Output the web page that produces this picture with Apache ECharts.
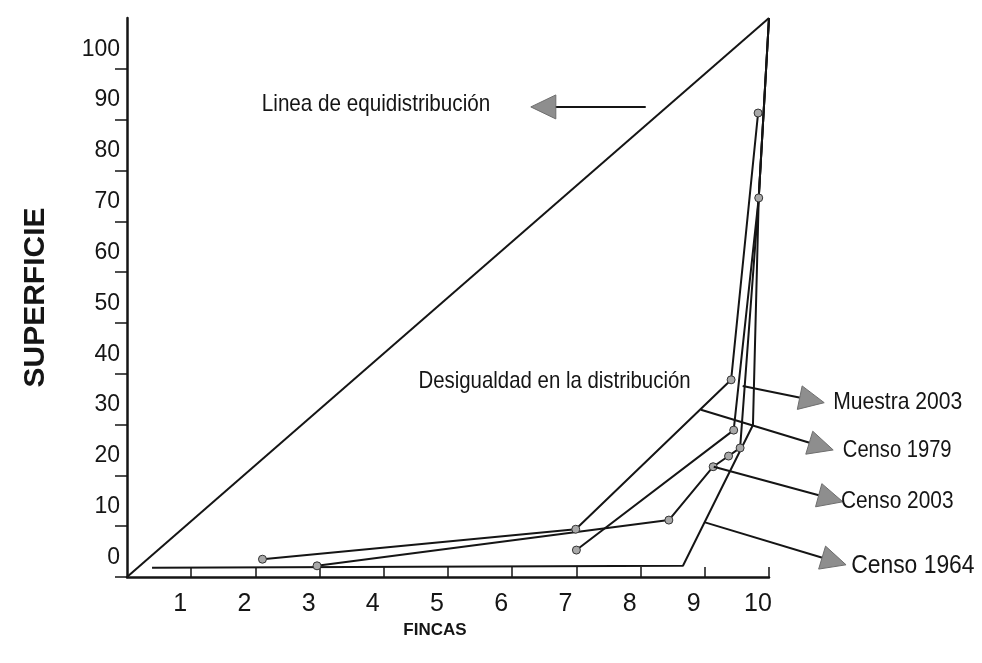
<!DOCTYPE html>
<html>
<head>
<meta charset="utf-8">
<script src="https://cdn.jsdelivr.net/npm/echarts@6/dist/echarts.min.js"></script>
<style>html,body{margin:0;padding:0;background:#fff}#c{width:982px;height:663px}</style>
</head>
<body>
<div id="c"></div>
<script>
// ---- data (x: fincas, y: superficie) ----
const fincasTicks = [1, 2, 3, 4, 5, 6, 7, 8, 9, 10];
const superficieTicks = [0, 10, 20, 30, 40, 50, 60, 70, 80, 90, 100];
const equidistribucion = [[0, 0], [10, 110]];
const censo1964 = [[0.39, 1.8], [8.66, 2.2], [9.75, 29.9], [9.84, 74.6], [10, 110]];
const censo1964Markers = [false, false, false, true, false];
const censo1979 = [[2.11, 3.5], [6.99, 9.4], [9.41, 38.8], [9.83, 91.3]];
const censo1979Markers = [true, true, true, true];
const censo2003 = [[2.96, 2.2], [8.44, 11.2], [9.13, 21.7], [9.37, 23.8], [9.55, 25.4], [9.84, 74.6], [10, 110]];
const censo2003Markers = [true, true, true, true, true, false, false];
const muestra2003 = [[7.0, 5.3], [9.45, 28.9], [9.84, 74.6], [10, 110]];
const muestra2003Markers = [true, true, false, false];

// annotations: arrows [fromX, fromY, toX, toY] and labels
const arrows = [
  [8.08, 92.5, 6.29, 92.5],
  [9.59, 37.6, 10.86, 34.3],
  [8.94, 32.9, 11.0, 25.0],
  [9.14, 21.7, 11.15, 14.8],
  [8.99, 10.8, 11.2, 2.4]
];
const labelTexts = ['Linea de equidistribución', 'Desigualdad en la distribución', 'Muestra 2003', 'Censo 1979', 'Censo 2003', 'Censo 1964'];
const labelPos = [[2.1, 93.1], [4.54, 38.4], [11.0, 34.4], [11.15, 25.0], [11.12, 14.8], [11.28, 2.2]];
const labelSizes = [24, 24, 24, 24, 24, 26];
const labelSqueeze = [0.86, 0.85, 0.88, 0.84, 0.87, 0.88];

const FONT = "'Liberation Sans', Arial, sans-serif";
const INK = '#151515';

function withMarkers(pts, flags) {
  return pts.map((p, i) => flags[i] ? { value: p } : { value: p, symbol: 'none' });
}

function curve(name, pts, flags) {
  return {
    name, type: 'line', data: withMarkers(pts, flags),
    symbol: 'circle', symbolSize: 8, showAllSymbol: true,
    lineStyle: { color: INK, width: 2 },
    itemStyle: { color: '#a8a8a8', borderColor: '#333', borderWidth: 1 },
    z: 3, animation: false
  };
}

const chart = echarts.init(document.getElementById('c'), null, { renderer: 'canvas' });
chart.setOption({
  backgroundColor: '#fff',
  animation: false,
  grid: { left: 127, right: 213, top: 18, bottom: 86 },
  xAxis: {
    type: 'value', min: 0, max: 10, interval: 1,
    name: 'FINCAS', nameLocation: 'middle', nameGap: 43,
    nameTextStyle: { fontFamily: FONT, fontSize: 17, fontWeight: 'bold', color: INK, padding: [0, 26, 0, 0] },
    axisLine: { show: true, lineStyle: { color: INK, width: 2.5 } },
    axisTick: { show: true, inside: true, length: 10, customValues: fincasTicks, lineStyle: { color: INK, width: 1.5 } },
    axisLabel: { customValues: fincasTicks, fontFamily: FONT, fontSize: 25, color: INK, margin: 15, padding: [0, 22, 0, 0] },
    splitLine: { show: false }
  },
  yAxis: {
    type: 'value', min: 0, max: 110, interval: 10,
    name: 'SUPERFICIE', nameLocation: 'middle', nameGap: 76,
    nameTextStyle: { fontFamily: FONT, fontSize: 30, fontWeight: 'bold', color: INK },
    axisLine: { show: true, lineStyle: { color: INK, width: 2.5 } },
    axisTick: { show: true, inside: false, length: 12, customValues: superficieTicks, lineStyle: { color: INK, width: 1.5 } },
    axisLabel: { customValues: superficieTicks, fontFamily: FONT, fontSize: 23, color: INK, margin: 7, verticalAlign: 'bottom', padding: [0, 0, 8, 0] },
    splitLine: { show: false }
  },
  series: [
    { name: 'Linea de equidistribución', type: 'line', data: equidistribucion, symbol: 'none', lineStyle: { color: INK, width: 2 }, z: 2 },
    curve('Censo 1964', censo1964, censo1964Markers),
    curve('Censo 1979', censo1979, censo1979Markers),
    curve('Censo 2003', censo2003, censo2003Markers),
    curve('Muestra 2003', muestra2003, muestra2003Markers),
    {
      type: 'custom', name: 'flechas', data: arrows, clip: false, z: 4,
      encode: { x: [0, 2], y: [1, 3] },
      renderItem: function (params, api) {
        const a = api.coord([api.value(0), api.value(1)]);
        const b = api.coord([api.value(2), api.value(3)]);
        const dx = b[0] - a[0], dy = b[1] - a[1];
        const len = Math.hypot(dx, dy), ux = dx / len, uy = dy / len;
        const hl = 25, hw = 12;
        const base = [b[0] - ux * hl, b[1] - uy * hl];
        const l = [base[0] - uy * hw, base[1] + ux * hw];
        const r = [base[0] + uy * hw, base[1] - ux * hw];
        return {
          type: 'group', children: [
            { type: 'line', shape: { x1: a[0], y1: a[1], x2: base[0] + ux * 2, y2: base[1] + uy * 2 }, style: { stroke: INK, lineWidth: 2 } },
            { type: 'polygon', shape: { points: [b, l, r] }, style: { fill: '#8e8e8e', stroke: '#6e6e6e', lineWidth: 1 } }
          ]
        };
      }
    },
    {
      type: 'custom', name: 'textos', data: labelPos, clip: false, z: 5,
      encode: { x: 0, y: 1 },
      renderItem: function (params, api) {
        const p = api.coord([api.value(0), api.value(1)]);
        const i = params.dataIndex;
        return {
          type: 'text', x: p[0], y: p[1], scaleX: labelSqueeze[i],
          style: { text: labelTexts[i], fontFamily: FONT, fontSize: labelSizes[i], fill: INK, align: 'left', verticalAlign: 'middle' }
        };
      }
    }
  ]
});
</script>
</body>
</html>
